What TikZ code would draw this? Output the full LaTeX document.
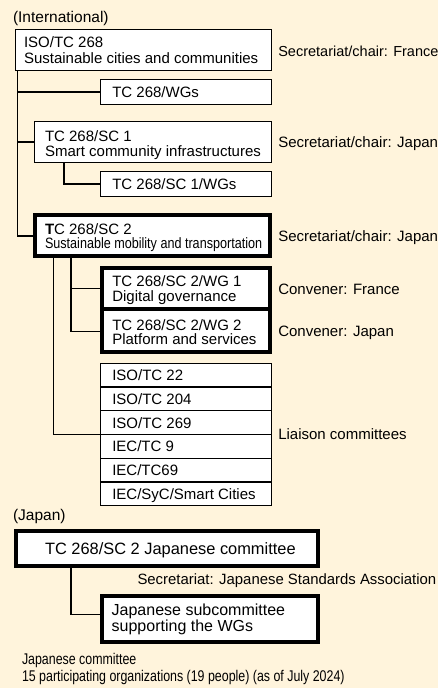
\documentclass[tikz,border=0pt]{standalone}
\usepackage{fontspec}
\setmainfont{Liberation Sans}
\definecolor{bg}{HTML}{FFF4DC}
\begin{document}
\begin{tikzpicture}[x=1pt,y=-1pt,
  thinbox/.style={draw=black,fill=white,line width=1.1pt,inner sep=0pt,outer sep=0pt},
  thickbox/.style={draw=black,fill=white,line width=4pt,inner sep=0pt,outer sep=0pt},
  txt/.style={anchor=base west,inner sep=0pt,outer sep=0pt,font=\fontsize{15}{15}\selectfont},
  conn/.style={draw=black,line width=1.2pt}]
\fill[bg] (0,0) rectangle (438,688);
\useasboundingbox (0,0) rectangle (438,688);
% boxes
\node[thinbox,minimum width=256pt,minimum height=41pt] (iso) at (143.5,50) {};
\node[thinbox,minimum width=171pt,minimum height=25pt] (wgs) at (186,92) {};
\node[thinbox,minimum width=237pt,minimum height=41pt] (sc1) at (153,142) {};
\node[thinbox,minimum width=171pt,minimum height=25pt] (sc1wgs) at (186,184) {};
\node[thickbox,minimum width=234.7pt,minimum height=41pt] (sc2) at (152.65,235) {};
\node[thickbox,minimum width=168.5pt,minimum height=41pt] (wg1) at (185.75,288.5) {};
\node[thickbox,minimum width=168.5pt,minimum height=43pt] (wg2) at (185.75,330.5) {};
\foreach \i/\c in {1/375.17,2/398.9,3/422.63,4/446.36,5/470.09,6/493.82}
  \node[thinbox,minimum width=171pt,minimum height=23.73pt] (l\i) at (186,\c) {};
\node[thickbox,minimum width=301.8pt,minimum height=34.2pt] (jc) at (167.1,548.4) {};
\node[thickbox,minimum width=216.3pt,minimum height=45.5pt] (jsub) at (209.85,619.05) {};
% connectors
\coordinate (tx) at (17.3,0);
\coordinate (sx) at (64,0);
\coordinate (cx) at (71,0);
\coordinate (lx) at (53.3,0);
\draw[conn] (iso.south -| tx) |- ([yshift=-1pt]sc2.west);
\draw[conn] (tx |- wgs.west) -- (wgs.west);
\draw[conn] (tx |- sc1.west) -- (sc1.west);
\draw[conn] (sc1.south -| sx) |- (sc1wgs.west);
\draw[conn] (sc2.south -| cx) |- ([yshift=-1pt]wg2.west);
\draw[conn] (cx |- wg1.west) -- (wg1.west);
\draw[conn] (sc2.south -| lx) |- (l3.south west);
\draw[conn] (jc.south -| cx) |- ([yshift=4.5pt]jsub.west);
% texts
\node[txt,font=\fontsize{15.5}{15.5}\selectfont] (intl) at (13,22.5) {(International)};
\node[txt] (isot1) at (24,47.7) {ISO/TC 268};
\node[txt] (isot2) at (24,63.3) {Sustainable cities and communities};
\node[txt,font=\fontsize{14.5}{14.5}\selectfont] (lab1) at (278.3,56) {Secretariat/chair: France};
\node[txt] (wgst) at (112.3,97.5) {TC 268/WGs};
\node[txt] (sc1t1) at (45,141.7) {TC 268/SC 1};
\node[txt] (sc1t2) at (45,156.5) {Smart community infrastructures};
\node[txt] (lab2) at (278.3,147.5) {Secretariat/chair: Japan};
\node[txt] (sc1wgst) at (112.3,189.5) {TC 268/SC 1/WGs};
\node[txt] (sc2t1) at (45,234.3) {\textbf{T}C 268/SC 2};
\node[txt] (sc2t2) at (45,248.3) {\scalebox{0.84}[1]{Sustainable mobility and transportation}};
\node[txt] (lab3) at (278.3,241.3) {Secretariat/chair: Japan};
\node[txt] (wg1t1) at (112.3,286.7) {TC 268/SC 2/WG 1};
\node[txt] (wg1t2) at (112.3,301.7) {Digital governance};
\node[txt] (conv1) at (278.3,294) {Convener: France};
\node[txt] (wg2t1) at (112.3,330) {TC 268/SC 2/WG 2};
\node[txt] (wg2t2) at (112.3,344.5) {Platform and services};
\node[txt] (conv2) at (278.3,336) {Convener: Japan};
\foreach \i/\c/\t in {1/375.17/{ISO/TC 22},2/398.9/{ISO/TC 204},3/422.63/{ISO/TC 269},4/446.36/{IEC/TC 9},5/470.09/{IEC/TC69},6/493.82/{IEC/SyC/Smart Cities}}
  \node[txt] (lt\i) at (112.3,\c+5.5) {\t};
\node[txt] (liaison) at (278.3,439) {Liaison committees};
\node[txt,font=\fontsize{15.5}{15.5}\selectfont] (japan) at (13,520.7) {(Japan)};
\node[txt,font=\fontsize{16.4}{16.4}\selectfont] (jct) at (45,554) {TC 268/SC 2 Japanese committee};
\node[txt,font=\fontsize{14.9}{14.9}\selectfont] (jsa) at (137.5,584.3) {Secretariat: Japanese Standards Association};
\node[txt,font=\fontsize{16}{16}\selectfont] (jsubt1) at (111.7,615.5) {Japanese subcommittee};
\node[txt,font=\fontsize{16}{16}\selectfont] (jsubt2) at (111.7,631) {supporting the WGs};
\node[txt,font=\fontsize{15.5}{15.5}\selectfont] (bot1) at (22,664.5) {\scalebox{0.8}[1]{Japanese committee}};
\node[txt,font=\fontsize{15.5}{15.5}\selectfont] (bot2) at (22,681.7) {\scalebox{0.8}[1]{15 participating organizations (19 people) (as of July 2024)}};
\end{tikzpicture}
\end{document}
